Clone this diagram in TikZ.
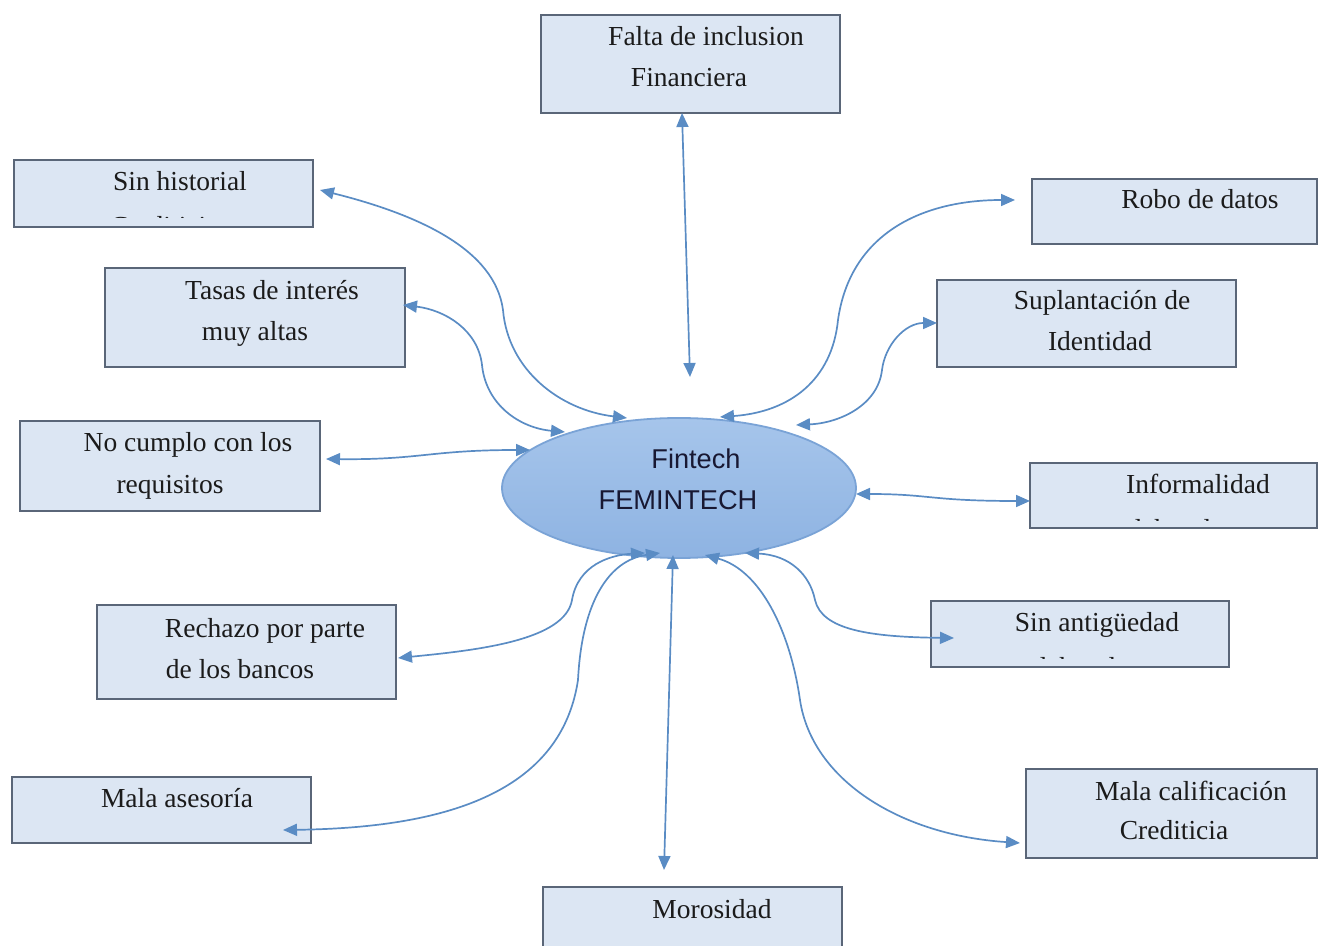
\documentclass[tikz,border=0pt]{standalone}
\usepackage{fontspec}
\setmainfont{Liberation Serif}
\newfontfamily\ellfont{Liberation Sans}
\usetikzlibrary{fit,shapes.geometric,arrows.meta}

\definecolor{boxfill}{HTML}{DCE6F3}
\definecolor{boxline}{HTML}{5A6678}
\definecolor{linkcol}{HTML}{5A8CC4}
\definecolor{elltop}{HTML}{A6C5EB}
\definecolor{ellbot}{HTML}{8EB3E2}
\definecolor{ellline}{HTML}{7AA3D6}
\definecolor{inkcol}{HTML}{1B1B1B}

\tikzset{
  box/.style={draw=boxline, fill=boxfill, line width=1pt, inner sep=0pt, rectangle},
  label/.style={anchor=base, inner sep=0pt, text=inkcol,
    font=\fontsize{13.75}{16}\selectfont},
  elltext/.style={anchor=base, inner sep=0pt, text=inkcol!90!blue,
    font=\ellfont\fontsize{13.6}{16}\selectfont},
  link/.style={draw=linkcol, line width=0.85pt,
    {Triangle[length=7pt,width=6pt,fill=linkcol]}-{Triangle[length=7pt,width=6pt,fill=linkcol]}},
}

\begin{document}
\begin{tikzpicture}[x=0.5pt,y=-0.5pt]
\useasboundingbox (0,0) rectangle (1319,946);

% ---------- boxes ----------
\node[box, fit={(541,15)(840,113)}]   (falta)  {};
\node[box, fit={(14,160)(313,227)}]   (hist)   {};
\node[box, fit={(105,268)(405,367)}]  (tasas)  {};
\node[box, fit={(20,421)(320,511)}]   (req)    {};
\node[box, fit={(97,605)(396,699)}]   (rech)   {};
\node[box, fit={(12,777)(311,843)}]   (aseso)  {};
\node[box, fit={(543,887)(842,960)}]  (moro)   {};
\node[box, fit={(1026,769)(1317,858)}] (calif) {};
\node[box, fit={(931,601)(1229,667)}] (antig)  {};
\node[box, fit={(1030,463)(1317,528)}] (infor) {};
\node[box, fit={(937,280)(1236,367)}] (supl)   {};
\node[box, fit={(1032,179)(1317,244)}] (robo)  {};

% ---------- box texts ----------
\node[label] (t-falta1) at (706,46)  {Falta de inclusion};
\node[label] (t-falta2) at (689,87)  {Financiera};
\node[label] (t-hist1)  at (180,191) {Sin historial};
\begin{scope}
  \clip (14,160) rectangle (313,218);
  \node[label] (t-hist2) at (165,236) {Crediticio};
\end{scope}
\node[label] (t-tasas1) at (272,300) {Tasas de interés};
\node[label] (t-tasas2) at (255,341) {muy altas};
\node[label] (t-req1)   at (188,452) {No cumplo con los};
\node[label] (t-req2)   at (170,494) {requisitos};
\node[label] (t-rech1)  at (265,638) {Rechazo por parte};
\node[label] (t-rech2)  at (240,679) {de los bancos};
\node[label] (t-aseso)  at (177,808) {Mala asesoría};
\node[label] (t-moro)   at (712,918) {Morosidad};
\node[label] (t-calif1) at (1191,800) {Mala calificación};
\node[label] (t-calif2) at (1174,840) {Crediticia};
\node[label] (t-antig1) at (1097,632) {Sin antigüedad};
\begin{scope}
  \clip (931,601) rectangle (1229,659);
  \node[label] (t-antig2) at (1078,677) {laboral};
\end{scope}
\node[label] (t-infor1) at (1198,494) {Informalidad};
\begin{scope}
  \clip (1030,463) rectangle (1317,521);
  \node[label] (t-infor2) at (1173,539) {laboral};
\end{scope}
\node[label] (t-supl1)  at (1102,310) {Suplantación de};
\node[label] (t-supl2)  at (1100,351) {Identidad};
\node[label] (t-robo)   at (1200,209) {Robo de datos};

% ---------- central ellipse ----------
\node[ellipse, draw=ellline, line width=0.9pt, top color=elltop, bottom color=ellbot,
      minimum width=177pt, minimum height=70pt, inner sep=0pt] (fin) at (679,488) {};
\node[elltext] (t-fin1) at (696,469) {Fintech};
\node[elltext] (t-fin2) at (678,510) {FEMINTECH};

% ---------- connector ends ----------
\coordinate (falta-e) at (682,113);  \coordinate (fin-falta) at (690,377);
\coordinate (hist-e)  at (320,190);  \coordinate (fin-hist)  at (627,418);
\coordinate (tasas-e) at (403,305);  \coordinate (fin-tasas) at (565,432);
\coordinate (req-e)   at (326,459);  \coordinate (fin-req)   at (530,450);
\coordinate (rech-e)  at (398,658);  \coordinate (fin-rech)  at (645,553);
\coordinate (aseso-e) at (283,830);  \coordinate (fin-aseso) at (660,553);
\coordinate (moro-e)  at (664,870);  \coordinate (fin-moro)  at (673,555);
\coordinate (calif-e) at (1020,843); \coordinate (fin-calif) at (705,555);
\coordinate (antig-e) at (954,638);  \coordinate (fin-antig) at (745,553);
\coordinate (infor-e) at (1030,501); \coordinate (fin-infor) at (856,494);
\coordinate (supl-e)  at (937,323);  \coordinate (fin-supl)  at (796,425);
\coordinate (robo-e)  at (1015,200); \coordinate (fin-robo)  at (720,417);

% ---------- connectors ----------
\draw[link] (falta-e) -- (fin-falta);
\draw[link] (hist-e) .. controls (420,215) and (495,250) .. (503,310)
                     .. controls (508,370) and (560,410) .. (fin-hist);
\draw[link] (tasas-e) .. controls (445,310) and (478,330) .. (482,365)
                      .. controls (486,405) and (520,428) .. (fin-tasas);
\draw[link] (req-e) .. controls (420,460) and (430,450) .. (fin-req);
\draw[link] (rech-e) .. controls (480,650) and (565,640) .. (572,600)
                     .. controls (578,565) and (610,555) .. (fin-rech);
\draw[link] (aseso-e) .. controls (430,828) and (560,800) .. (578,680)
                      .. controls (582,600) and (610,560) .. (fin-aseso);
\draw[link] (fin-moro) -- (moro-e);
\draw[link] (fin-calif) .. controls (760,570) and (790,630) .. (800,700)
                        .. controls (812,780) and (900,835) .. (calif-e);
\draw[link] (fin-antig) .. controls (790,555) and (810,575) .. (815,600)
                        .. controls (822,630) and (870,637) .. (antig-e);
\draw[link] (fin-infor) .. controls (930,494) and (930,501) .. (infor-e);
\draw[link] (supl-e) .. controls (905,323) and (885,345) .. (882,370)
                     .. controls (878,405) and (840,423) .. (fin-supl);
\draw[link] (robo-e) .. controls (920,200) and (850,235) .. (838,320)
                     .. controls (832,380) and (790,412) .. (fin-robo);
\end{tikzpicture}
\end{document}
